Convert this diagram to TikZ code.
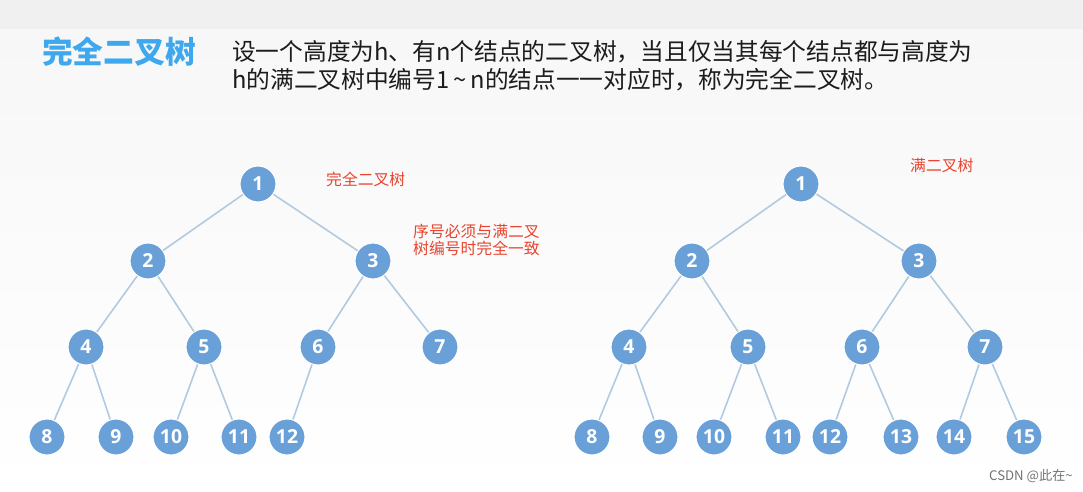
\documentclass[tikz,border=0pt]{standalone}
\usepackage{fontspec}
\setmainfont{Noto Sans CJK SC}
\newfontfamily\numfont{Open Sans}
\usepackage{xcolor}

\definecolor{nodeblue}{RGB}{106,160,216}
\definecolor{edgeblue}{RGB}{178,202,224}
\definecolor{titleblue}{RGB}{62,168,238}
\definecolor{notered}{RGB}{232,68,48}
\definecolor{textdark}{RGB}{28,28,28}
\definecolor{bandgray}{RGB}{240,240,240}
\definecolor{pagegray}{RGB}{247,247,247}

\begin{document}
\begin{tikzpicture}[x=0.02cm, y=-0.02cm,
    treenode/.style={circle, fill=nodeblue, draw=white, line width=0.6pt,
        minimum size=0.72cm, inner sep=0pt, text=white,
        font=\numfont\bfseries\fontsize{11}{11}\selectfont},
    treeedge/.style={draw=edgeblue, line width=0.9pt},
    note/.style={text=notered, anchor=west, align=left,
        font=\fontsize{9}{9.6}\selectfont}]

    % background
    \fill[bandgray] (0,0) rectangle (1083,30);
    \shade[top color=pagegray, bottom color=white] (0,30) rectangle (1083,492);
    \useasboundingbox (0,0) rectangle (1083,492);

    % heading
    \node[anchor=west, text=titleblue, font=\bfseries\fontsize{17.5}{18}\selectfont] (title) at (36,52) {完全二叉树};
    \node[anchor=west, text=textdark, font=\fontsize{13.5}{14}\selectfont] (defone) at (226,52) {设一个高度为h、有n个结点的二叉树，当且仅当其每个结点都与高度为};
    \node[anchor=west, text=textdark, font=\fontsize{13.5}{14}\selectfont] (deftwo) at (226,80) {h的满二叉树中编号1\,\textasciitilde\,n的结点一一对应时，称为完全二叉树。};

    % complete binary tree
    \foreach \n/\x/\y in {
        1/258/184, 2/148/261, 3/373/261,
        4/86/347, 5/204/347, 6/318/347, 7/440/347,
        8/47/437, 9/116/437, 10/171/437, 11/239/437, 12/287/437
    }{
        \node[treenode] (l\n) at (\x,\y) {\n};
    }
    \foreach \p/\c in {1/2, 1/3, 2/4, 2/5, 3/6, 3/7, 4/8, 4/9, 5/10, 5/11, 6/12}
        \draw[treeedge] (l\p) -- (l\c);

    % full binary tree
    \foreach \n/\x/\y in {
        1/801/184, 2/692/261, 3/919/261,
        4/629/347, 5/748/347, 6/862/347, 7/985/347,
        8/592/437, 9/660/437, 10/714/437, 11/783/437,
        12/830/437, 13/901/437, 14/954/437, 15/1024/437
    }{
        \node[treenode] (r\n) at (\x,\y) {\n};
    }
    \foreach \p/\c in {1/2, 1/3, 2/4, 2/5, 3/6, 3/7, 4/8, 4/9, 5/10, 5/11,
        6/12, 6/13, 7/14, 7/15}
        \draw[treeedge] (r\p) -- (r\c);

    % notes
    \node[note] (lname) at (320,179) {完全二叉树};
    \node[note] (lrule) at (407,240) {序号必须与满二叉\\树编号时完全一致};
    \node[note] (rname) at (904,165) {满二叉树};
    \node[anchor=west, text=black!55, font=\fontsize{7.5}{8}\selectfont] (mark) at (983,476) {CSDN @此在\textasciitilde};
\end{tikzpicture}
\end{document}
